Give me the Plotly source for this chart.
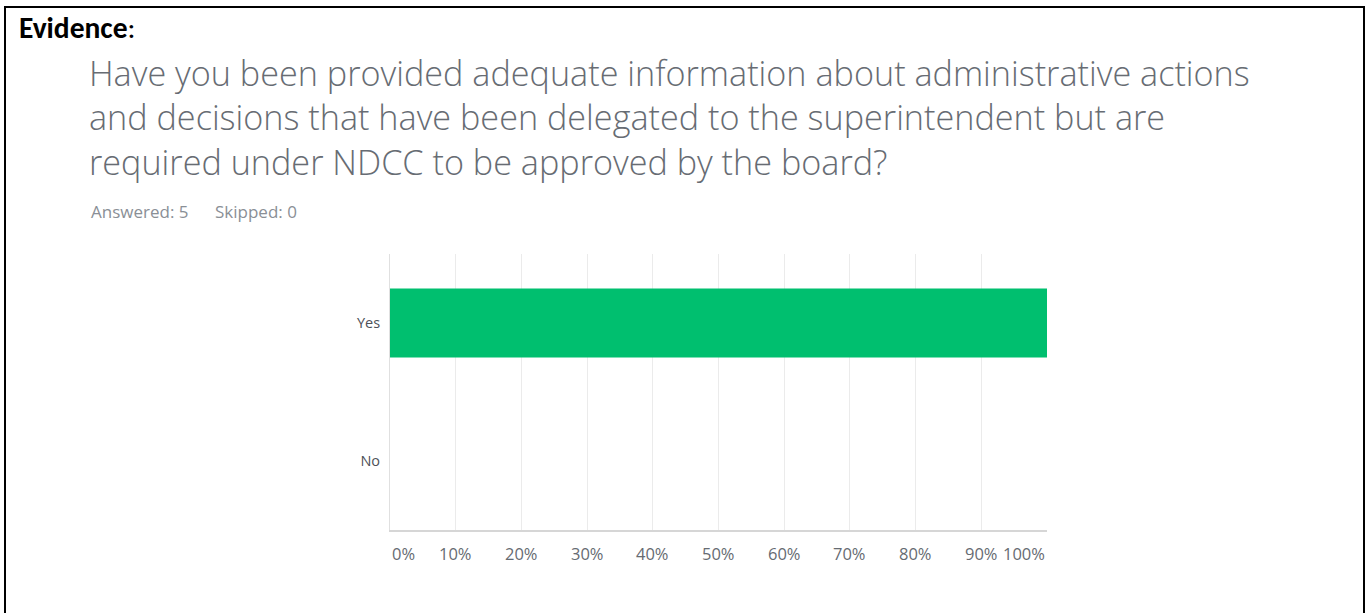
import plotly.graph_objects as go

categories = ["Yes", "No"]
values = [100, 0]
tick_values = [0, 10, 20, 30, 40, 50, 60, 70, 80, 90, 100]
tick_labels = ["0%", "10%", "20%", "30%", "40%", "50%", "60%", "70%", "80%", "90%", "100%"]
title_lines = [
    "Have you been provided adequate information about administrative actions",
    "and decisions that have been delegated to the superintendent but are",
    "required under NDCC to be approved by the board?",
]
answered_text = "Answered: 5"
skipped_text = "Skipped: 0"

W, H = 1366, 613
L, R, T, B = 390, 1047, 254, 530


def px(x):
    return (x - L) / (R - L)


def py(y):
    return (B - y) / (B - T)


fig = go.Figure(
    go.Bar(
        x=values,
        y=categories,
        orientation="h",
        width=0.5,
        marker=dict(color="#00bf6f", line=dict(width=0)),
        hoverinfo="skip",
    )
)

FONT = "Open Sans"
annotations = []
annotations.append(dict(
    x=px(17), y=py(28), xref="paper", yref="paper", xanchor="left", yanchor="middle",
    text="<b>Evidence</b>:", showarrow=False,
    font=dict(family="Carlito, Lato, Liberation Sans", size=29.5, color="#000000"),
))
annotations.append(dict(
    x=px(87), y=py(117), xref="paper", yref="paper", xanchor="left", yanchor="middle",
    align="left", text="<br>".join(title_lines), showarrow=False,
    font=dict(family=FONT, size=34.2, weight=300, color="#676c73"),
))
annotations.append(dict(
    x=px(89), y=py(211), xref="paper", yref="paper", xanchor="left", yanchor="middle",
    text=answered_text, showarrow=False,
    font=dict(family=FONT, size=17, color="#8a8f96"),
))
annotations.append(dict(
    x=px(213), y=py(211), xref="paper", yref="paper", xanchor="left", yanchor="middle",
    text=skipped_text, showarrow=False,
    font=dict(family=FONT, size=17, color="#8a8f96"),
))
for i, (v, t) in enumerate(zip(tick_values, tick_labels)):
    anchor = "center"
    if i == 0:
        anchor = "left"
    elif i == len(tick_values) - 1:
        anchor = "right"
    annotations.append(dict(
        x=v, y=py(553), xref="x", yref="paper", xanchor=anchor, yanchor="middle",
        text=t, showarrow=False,
        font=dict(family=FONT, size=16.5, color="#666b72"),
    ))

fig.update_layout(
    width=W, height=H,
    margin=dict(l=L, r=W - R, t=T, b=H - B, pad=0),
    paper_bgcolor="#ffffff", plot_bgcolor="#ffffff",
    showlegend=False,
    xaxis=dict(
        range=[0, 100], tickvals=tick_values, showticklabels=False,
        showgrid=True, gridcolor="#ebebeb", gridwidth=1,
        showline=True, linecolor="#d6d6d6", linewidth=2,
        zeroline=False, fixedrange=True,
    ),
    yaxis=dict(
        categoryorder="array", categoryarray=categories, autorange="reversed",
        showgrid=False, showline=True, linecolor="#e0e0e0", linewidth=1,
        ticks="", ticklabelstandoff=6,
        tickfont=dict(family=FONT, size=14.5, color="#4d5158"),
        zeroline=False, fixedrange=True,
    ),
    annotations=annotations,
    shapes=[dict(
        type="rect", xref="paper", yref="paper",
        x0=px(5), x1=px(1364), y0=py(640), y1=py(7),
        line=dict(color="#000000", width=2), fillcolor="rgba(0,0,0,0)", layer="above",
    )],
)

fig.write_html(
    "out.html",
    config={"displayModeBar": False},
    post_script="document.body.style.margin='0';document.body.style.overflow='hidden';",
)
